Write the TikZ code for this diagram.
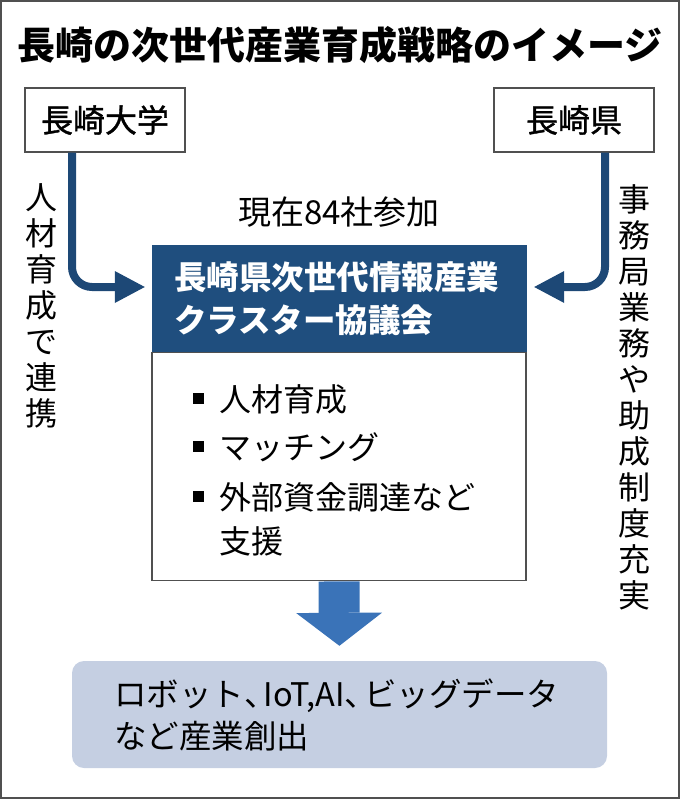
\documentclass[tikz,border=0pt]{standalone}
\usepackage{fontspec}
\setmainfont{Noto Sans CJK JP}
\newfontfamily\medfont[FakeBold=1.2]{Noto Sans CJK JP}
\usepackage{tikz}
\usetikzlibrary{arrows.meta,positioning,calc}
\definecolor{navy}{HTML}{1D4876}
\definecolor{headblue}{HTML}{1F4E7E}
\definecolor{flowblue}{HTML}{3A73B8}
\definecolor{resultfill}{HTML}{C5CFE2}
\definecolor{framegray}{HTML}{505050}
\tikzstyle{orgbox} = [draw=framegray,line width=1.2pt,minimum width=160pt,minimum height=64pt,inner sep=0pt,font=\medfont\fontsize{32}{36}\selectfont]
\tikzstyle{header} = [draw=headblue,fill=headblue,text=white,minimum width=374pt,minimum height=107pt,inner xsep=22pt,inner ysep=0pt,text width=330pt,align=left,font=\bfseries\fontsize{32.5}{43}\selectfont]
\tikzstyle{body} = [draw=framegray,line width=1.2pt,minimum width=374pt,minimum height=228pt,inner sep=0pt]
\tikzstyle{item} = [anchor=west,inner sep=0pt,font=\fontsize{32}{36}\selectfont]
\tikzstyle{side} = [inner sep=0pt,align=center,font=\fontsize{32}{36}\selectfont]
\tikzstyle{link} = [navy,line width=8pt,rounded corners=20pt,arrows={-Triangle[length=30pt,width=32pt,line width=0pt]}]
\tikzstyle{flow} = [flowblue,line width=41pt,shorten >=15pt,arrows={-Triangle[length=33pt,width=86pt,line width=0pt]}]
\tikzstyle{result} = [fill=resultfill,rounded corners=12pt,minimum width=535pt,minimum height=107pt,inner xsep=42pt,inner ysep=0pt,text width=451pt,align=left,font=\fontsize{32.5}{42}\selectfont]
\newcommand{\sqbul}{\rule[7pt]{11pt}{11pt}\hspace{15pt}}
\newcommand{\tou}{\makebox[0.6em][l]{、}}

\begin{document}
\begin{tikzpicture}[x=1pt,y=-1pt]
                  \useasboundingbox (0,0) rectangle (680,799);
                  \draw[framegray,line width=2pt] (1,1) rectangle (679,798);

                  \node (title)[font=\bfseries\fontsize{38}{40}\selectfont] at (340,45) {長崎の次世代産業育成戦略のイメージ};

                  \node (univ)[orgbox] at (105,120) {長崎大学};
                  \node (pref)[orgbox] at (574,120) {長崎県};

                  \node (members)[font=\fontsize{33}{36}\selectfont] at (339,212) {現在84社参加};

                  \node (council)[header] at (339,298.5) {長崎県次世代情報産業\\クラスター協議会};
                  \node (support)[body,below=0pt of council] {};

                  \node (item1)[item] at (193,399) {\sqbul 人材育成};
                  \node (item2)[item] at (193,447) {\sqbul マッチング};
                  \node (item3)[item] at (193,497) {\sqbul 外部資金調達など};
                  \node (item4)[item] at (219,541) {支援};

                  \node (univtask)[side] at (41,306) {人\\材\\育\\成\\で\\連\\携};
                  \node (preftask)[side] at (634,397) {事\\務\\局\\業\\務\\や\\助\\成\\制\\度\\充\\実};

                  \node (outcome)[result] at (339.5,714.5) {ロボット\tou IoT,AI\tou ビッグデータ\\など産業創出};

                  \draw[link] ([xshift=-33pt]univ.south) |- ([xshift=-7pt,yshift=11.5pt]council.west);
                  \draw[link] ([xshift=31pt]pref.south) |- ([xshift=8pt,yshift=11.5pt]council.east);
                  \draw[flow] (support.south) -- (outcome.north);
            \end{tikzpicture}
\end{document}
